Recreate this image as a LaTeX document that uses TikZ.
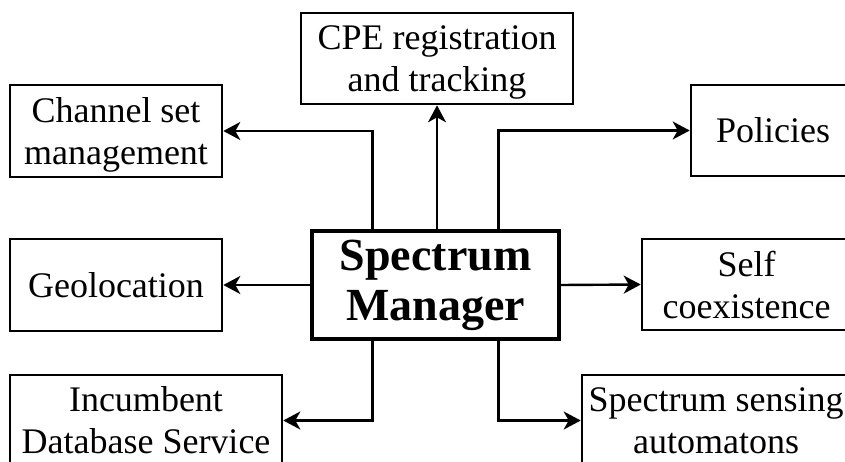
\documentclass[tikz,border=0pt]{standalone}
\usepackage{fontspec}
\setmainfont{Liberation Serif}
\usetikzlibrary{arrows.meta}

\tikzset{
  blk/.style={draw, line width=2.6pt, inner sep=0pt, align=center,
    text depth=0pt, font=\fontsize{36}{42}\selectfont},
  core/.style={draw, line width=3.2pt, inner sep=0pt, align=center,
    font=\fontsize{46}{50}\selectfont\bfseries},
  link/.style={line width=2.4pt,
    -{Stealth[length=17pt,width=18pt,inset=5pt]}}
}

\begin{document}
\begin{tikzpicture}[x=1pt,y=-1pt]
  \useasboundingbox (0,0) rectangle (845,462);
  \clip (0,0) rectangle (845,462);

  % central block
  \node[core, minimum width=247pt, minimum height=108pt] (sm) at (435.5,285)
    {Spectrum\\Manager};

  % surrounding function blocks
  \node[blk, minimum width=272pt, minimum height=91pt] (cpe) at (437,58.5)
    {CPE registration\\and tracking};
  \node[blk, minimum width=212pt, minimum height=92pt] (chan) at (116,131)
    {Channel set\\management};
  \node[blk, minimum width=164pt, minimum height=91pt] (pol) at (773,130.5)
    {Policies};
  \node[blk, minimum width=212pt, minimum height=92pt] (geo) at (116,285)
    {Geolocation};
  \node[blk, minimum width=209pt, minimum height=91pt] (self) at (746.5,284.5)
    {Self\\coexistence};
  \node[blk, minimum width=272pt, minimum height=91pt] (inc) at (146,420.5)
    {Incumbent\\Database Service};
  \node[blk, minimum width=268pt, minimum height=91pt] (sens) at (716,420.5)
    {Spectrum sensing\\automatons};

  % taps on the central block
  \coordinate (tnw) at ([xshift=62pt]sm.north west);
  \coordinate (tne) at ([xshift=-62pt]sm.north east);
  \coordinate (tsw) at ([xshift=62pt]sm.south west);
  \coordinate (tse) at ([xshift=-62pt]sm.south east);

  % connectors
  \draw[link] (sm.north -| cpe.south) -- (cpe.south);
  \draw[link] (tnw) |- (chan.east);
  \draw[link] (tne) |- (pol.west);
  \draw[link] (sm.west) -- (geo.east);
  \draw[link] (sm.east) -- (self.west);
  \draw[link] (tsw) |- (inc.east);
  \draw[link] (tse) |- (sens.west);
\end{tikzpicture}
\end{document}
